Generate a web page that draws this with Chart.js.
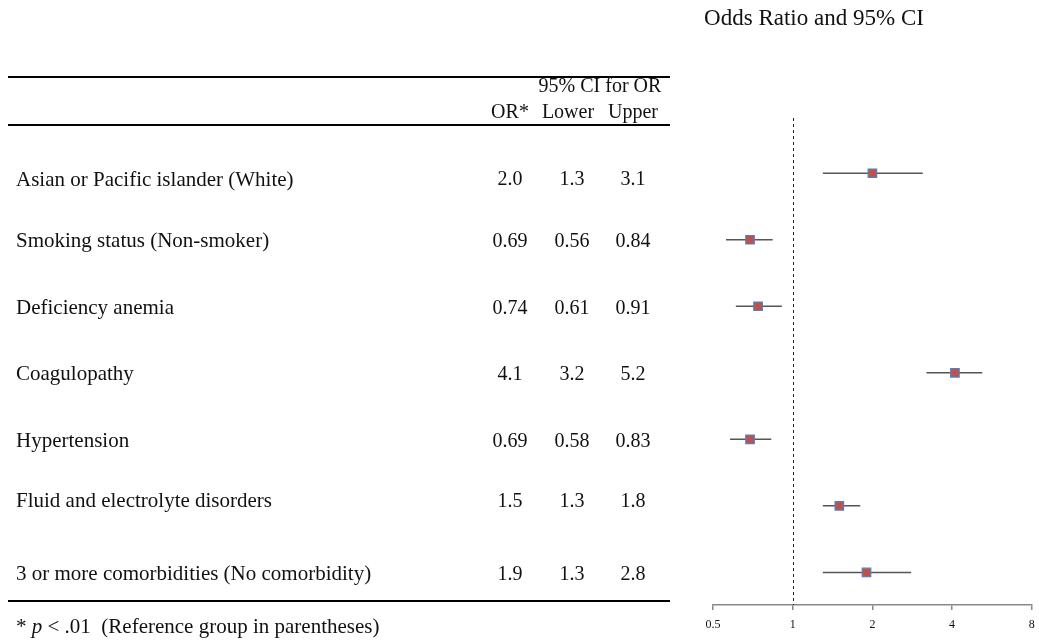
<!DOCTYPE html>
<html>
<head>
<meta charset="utf-8">
<script src="https://cdn.jsdelivr.net/npm/chart.js@4"></script>
<style>
  html, body { margin: 0; padding: 0; background: #fff; }
  #wrap { width: 1039px; height: 643px; position: relative; }
</style>
</head>
<body>
<div id="wrap"><canvas id="forest"></canvas></div>
<script>
// rows of the table / forest plot
const labels = [
  'Asian or Pacific islander (White)',
  'Smoking status (Non-smoker)',
  'Deficiency anemia',
  'Coagulopathy',
  'Hypertension',
  'Fluid and electrolyte disorders',
  '3 or more comorbidities (No comorbidity)'
];
const oddsRatio = [2.0, 0.69, 0.74, 4.1, 0.69, 1.5, 1.9];
const lowerCI   = [1.3, 0.56, 0.61, 3.2, 0.58, 1.3, 1.3];
const upperCI   = [3.1, 0.84, 0.91, 5.2, 0.83, 1.8, 2.8];
// text shown in the table (keeps trailing zeros)
const orText    = ['2.0', '0.69', '0.74', '4.1', '0.69', '1.5', '1.9'];
const lowText   = ['1.3', '0.56', '0.61', '3.2', '0.58', '1.3', '1.3'];
const upText    = ['3.1', '0.84', '0.91', '5.2', '0.83', '1.8', '2.8'];
const xTicks    = [0.5, 1, 2, 4, 8];

const SERIF = '"Liberation Serif", "Times New Roman", serif';
// small vertical shifts of the table text vs. the plot rows (px)
const rowNudge = [5, 0, 0, 0, 0, -6, 0];

// error bar segments, one dataset per row
const ciSets = labels.map((l, i) => ({
  type: 'line',
  label: l,
  data: [{ x: lowerCI[i], y: i }, { x: upperCI[i], y: i }],
  borderColor: '#555',
  borderWidth: 1.5,
  pointRadius: 0,
  fill: false,
  order: 2
}));

const tablePlugin = {
  id: 'tablePlugin',
  beforeDatasetsDraw(chart) {
    // reference line at OR = 1
    const ctx = chart.ctx;
    const x = Math.round(chart.scales.x.getPixelForValue(1)) + 0.5;
    ctx.save();
    ctx.strokeStyle = '#222';
    ctx.lineWidth = 1;
    ctx.setLineDash([3, 3]);
    ctx.beginPath();
    ctx.moveTo(x, chart.chartArea.top);
    ctx.lineTo(x, chart.chartArea.bottom);
    ctx.stroke();
    ctx.restore();
  },
  afterDraw(chart) {
    const ctx = chart.ctx;
    const ys = chart.scales.y;
    ctx.save();
    ctx.fillStyle = '#111';
    ctx.textBaseline = 'middle';

    // title over the plot
    ctx.font = '23px ' + SERIF;
    ctx.textAlign = 'center';
    ctx.fillText('Odds Ratio and 95% CI', 814, 19);

    // table rules
    ctx.strokeStyle = '#000';
    ctx.lineWidth = 2;
    [77, 125, 601].forEach(y => {
      ctx.beginPath();
      ctx.moveTo(8, y);
      ctx.lineTo(670, y);
      ctx.stroke();
    });

    // header
    ctx.font = '20px ' + SERIF;
    ctx.fillText('95% CI for OR', 600, 87);
    ctx.fillText('OR*', 510, 113);
    ctx.fillText('Lower', 568, 113);
    ctx.fillText('Upper', 633, 113);

    // rows
    labels.forEach((l, i) => {
      const y = ys.getPixelForValue(i) + 2 + rowNudge[i];
      ctx.font = '21px ' + SERIF;
      ctx.textAlign = 'left';
      ctx.fillText(l, 16, y);
      ctx.font = '20px ' + SERIF;
      ctx.textAlign = 'center';
      ctx.fillText(orText[i], 510, y);
      ctx.fillText(lowText[i], 572, y);
      ctx.fillText(upText[i], 633, y);
    });

    // footnote
    ctx.textAlign = 'left';
    let fx = 16;
    const fy = 627;
    ctx.font = '21px ' + SERIF;
    ctx.fillText('* ', fx, fy);
    fx += ctx.measureText('* ').width;
    ctx.font = 'italic 21px ' + SERIF;
    ctx.fillText('p', fx, fy);
    fx += ctx.measureText('p').width;
    ctx.font = '21px ' + SERIF;
    ctx.fillText(' < .01  (Reference group in parentheses)', fx, fy);
    ctx.restore();
  }
};

new Chart(document.getElementById('forest'), {
  type: 'scatter',
  data: {
    datasets: [
      {
        label: 'Odds ratio',
        data: oddsRatio.map((v, i) => ({ x: v, y: i })),
        pointStyle: 'rect',
        pointRadius: 6,
        pointBackgroundColor: '#C0504D',
        pointBorderColor: '#4F81BD',
        pointBorderWidth: 1.2,
        order: 1
      },
      ...ciSets
    ]
  },
  options: {
    responsive: true,
    maintainAspectRatio: false,
    animation: false,
    layout: { padding: { left: 713, right: -4, top: 118, bottom: 8 } },
    plugins: {
      legend: { display: false },
      tooltip: { enabled: false }
    },
    scales: {
      x: {
        type: 'logarithmic',
        min: 0.5,
        max: 8,
        afterBuildTicks: scale => { scale.ticks = xTicks.map(v => ({ value: v })); },
        afterFit: scale => {
          scale.paddingLeft = 0;
          scale.paddingRight = 0;
          scale.height = 30;
        },
        ticks: {
          color: '#111',
          font: { family: SERIF, size: 12 },
          padding: 8,
          maxRotation: 0,
          callback: v => String(v)
        },
        grid: { drawOnChartArea: false, drawTicks: true, tickLength: 5, color: '#888', lineWidth: 1.5 },
        border: { display: true, color: '#888', width: 1.5 }
      },
      y: {
        type: 'linear',
        reverse: true,
        min: -0.83,
        max: 6.49,
        display: false
      }
    }
  },
  plugins: [tablePlugin]
});
</script>
</body>
</html>
